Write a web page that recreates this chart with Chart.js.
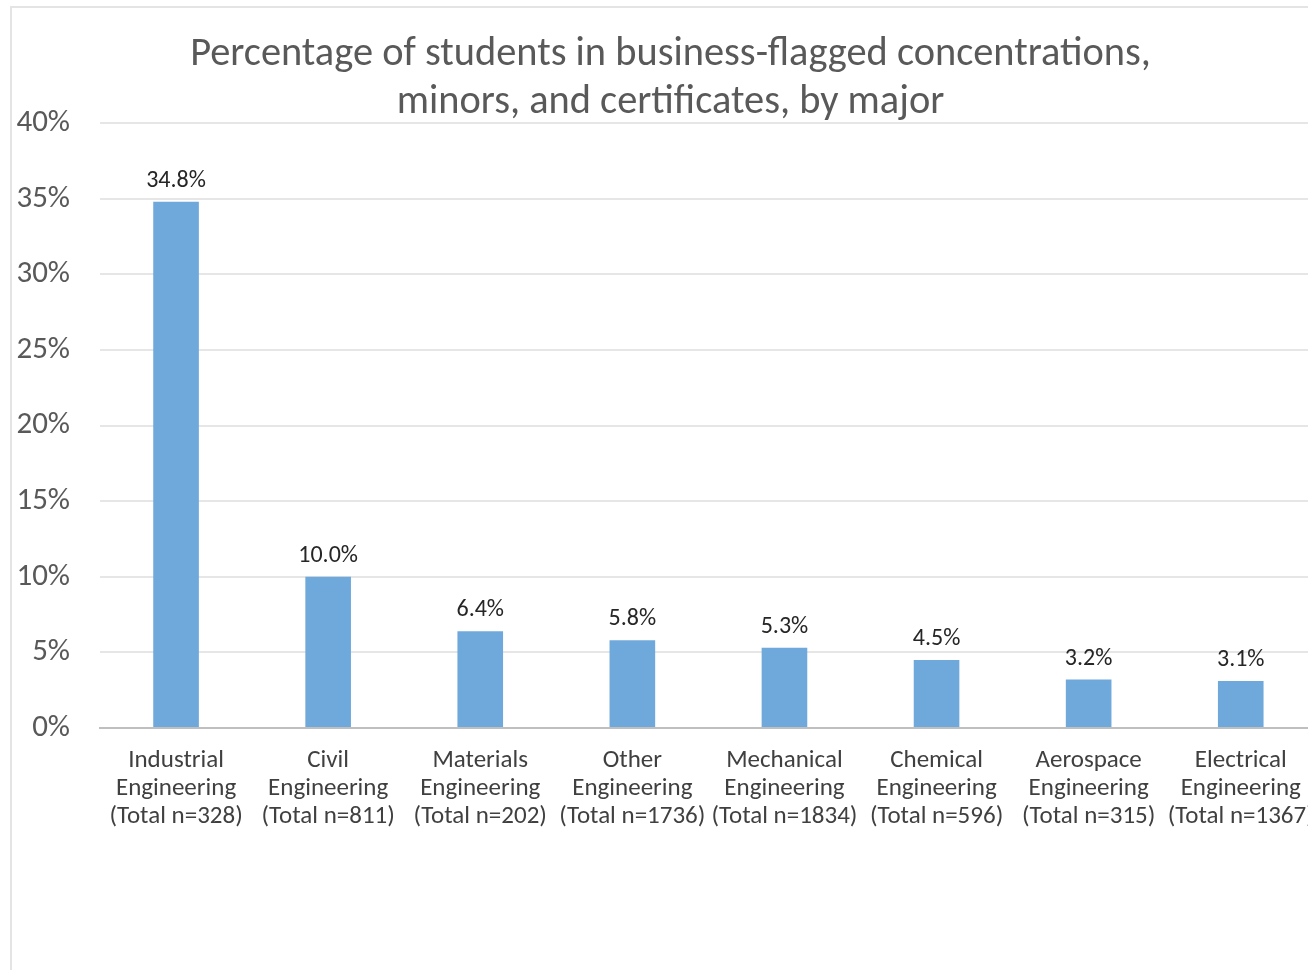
<!DOCTYPE html>
<html>
<head>
<meta charset="utf-8">
<script src="https://cdn.jsdelivr.net/npm/chart.js@4/dist/chart.umd.min.js"></script>
<style>
    html, body { margin: 0; padding: 0; background: #fff; overflow: hidden; }
    #frame {
        position: absolute; left: 10px; top: 6px;
        width: 1400px; height: 1000px;
        border: 2px solid #e4e4e4;
        box-sizing: border-box;
    }
    #wrap { position: absolute; left: 12px; top: 8px; width: 1321px; height: 962px; }
</style>
</head>
<body>
<div id="frame"></div>
<div id="wrap"><canvas id="chart"></canvas></div>
<script>
// --- データ ---
const majors = [
    ["Industrial", "Engineering", "(Total n=328)"],
    ["Civil", "Engineering", "(Total n=811)"],
    ["Materials", "Engineering", "(Total n=202)"],
    ["Other", "Engineering", "(Total n=1736)"],
    ["Mechanical", "Engineering", "(Total n=1834)"],
    ["Chemical", "Engineering", "(Total n=596)"],
    ["Aerospace", "Engineering", "(Total n=315)"],
    ["Electrical", "Engineering", "(Total n=1367)"]
];
const percentValues = [34.8, 10.0, 6.4, 5.8, 5.3, 4.5, 3.2, 3.1];
const yTicks = [0, 5, 10, 15, 20, 25, 30, 35, 40];
const titleLines = [
    "Percentage of students in business-flagged concentrations,",
    "minors, and certificates, by major"
];

const FONT = "Carlito, Calibri, Lato, sans-serif";

// バーの上に値ラベル
const valueLabels = {
    id: "valueLabels",
    afterDatasetsDraw(chart) {
        const ctx = chart.ctx;
        const meta = chart.getDatasetMeta(0);
        ctx.save();
        ctx.font = "24px " + FONT;
        ctx.fillStyle = "#262626";
        ctx.textAlign = "center";
        ctx.textBaseline = "middle";
        meta.data.forEach((bar, i) => {
            ctx.fillText(percentValues[i].toFixed(1) + "%", bar.x, bar.y - 21);
        });
        ctx.restore();
    }
};

const ctx = document.getElementById("chart").getContext("2d");
new Chart(ctx, {
    type: "bar",
    data: {
        labels: majors,
        datasets: [{
            data: percentValues,
            backgroundColor: "#6FA9DC",
            borderWidth: 0,
            barPercentage: 0.30,
            categoryPercentage: 1.0
        }]
    },
    options: {
        responsive: true,
        maintainAspectRatio: false,
        animation: false,
        layout: { autoPadding: false, padding: { left: 0, right: 4, top: 0, bottom: 120 } },
        plugins: {
            legend: { display: false },
            tooltip: { enabled: false },
            title: {
                display: true,
                text: titleLines,
                color: "#595959",
                font: { family: FONT, size: 40.4, weight: "normal", lineHeight: 1.19 },
                padding: { top: 23, bottom: -4 }
            }
        },
        scales: {
            x: {
                grid: { display: false, drawTicks: false },
                border: { color: "#bfbfbf", width: 2 },
                ticks: {
                    color: "#404040",
                    font: { family: FONT, size: 25, lineHeight: 1.12 },
                    padding: 19,
                    maxRotation: 0,
                    autoSkip: false
                }
            },
            y: {
                min: 0,
                max: 40,
                afterFit(scale) { scale.width = 88; },
                afterBuildTicks(scale) { scale.ticks = yTicks.map(v => ({ value: v })); },
                border: { display: false },
                grid: { color: "#e6e6e6", lineWidth: 2, drawTicks: false },
                ticks: {
                    color: "#595959",
                    font: { family: FONT, size: 31 },
                    padding: 30,
                    callback: v => v + "%"
                }
            }
        }
    },
    plugins: [valueLabels]
});
</script>
</body>
</html>
